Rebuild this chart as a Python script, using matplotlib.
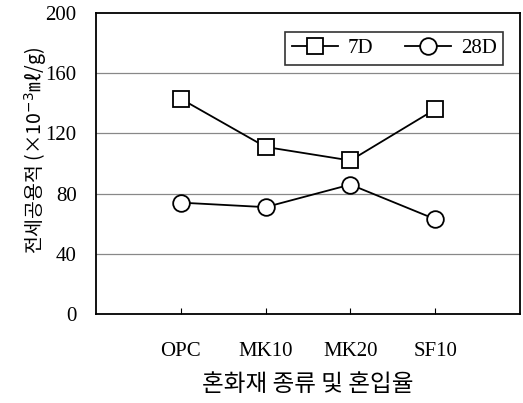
import matplotlib
matplotlib.use("Agg")
import matplotlib.pyplot as plt

categories = ["OPC", "MK10", "MK20", "SF10"]
d7 = [143, 111, 102, 136]
d28 = [74, 71, 86, 63]
yticks = [0, 40, 80, 120, 160, 200]

serif = ["Liberation Serif", "DejaVu Serif"]
kr = ["Noto Sans CJK KR", "DejaVu Sans"]

fig = plt.figure(figsize=(5.23, 4.03), dpi=100)
ax = fig.add_axes([96/523, 1-314/403, (520-96)/523, (314-13)/403])

x = list(range(len(categories)))
ax.plot(x, d7, color="black", lw=1.3, marker="s", ms=12, mfc="white", mec="black", mew=1.3, label="7D")
ax.plot(x, d28, color="black", lw=1.3, marker="o", ms=12, mfc="white", mec="black", mew=1.3, label="28D")

ax.set_xlim(-1, 4)
ax.set_ylim(0, 200)
ax.set_yticks(yticks)
ax.set_xticks(x)
ax.set_xticklabels(categories, fontfamily=serif, fontsize=15)
ax.set_yticklabels([str(v) for v in yticks], fontfamily=serif, fontsize=15)
ax.tick_params(axis="x", direction="in", length=4, pad=20)
ax.tick_params(axis="y", length=0, pad=14)
for v in yticks[1:-1]:
    ax.axhline(v, color="#888888", lw=0.9, zorder=0)
for s in ax.spines.values():
    s.set_linewidth(1.3)

ax.set_xlabel("혼화재 종류 및 혼입율", fontfamily=kr, fontsize=17, labelpad=9)
ax.set_ylabel("전세공용적 (×10$^{-3}$㎖/g)", fontfamily=kr, fontsize=14)
ax.yaxis.set_label_coords(-0.112, 0.545)

leg = ax.legend(loc="upper right", ncol=2, frameon=True, fancybox=False, edgecolor="black",
                prop={"family": serif, "size": 15}, bbox_to_anchor=(0.985, 0.97),
                handlelength=2.2, handletextpad=0.5, columnspacing=1.5, borderpad=0.3)
leg.get_frame().set_linewidth(1.2)

fig.savefig("out.png", dpi=100)
